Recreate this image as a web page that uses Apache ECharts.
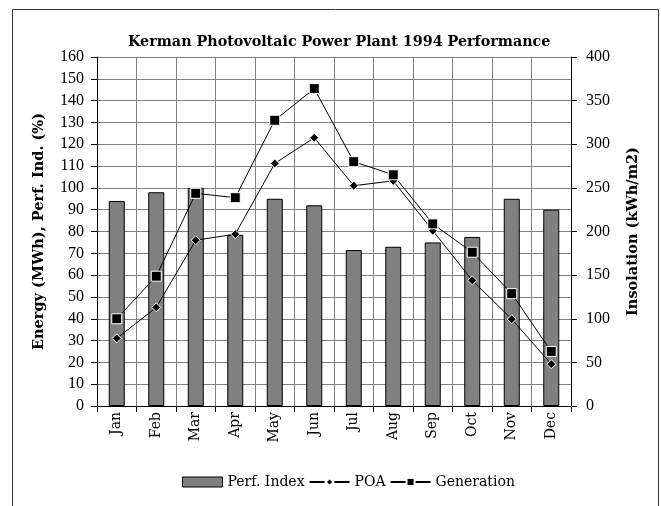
<!DOCTYPE html>
<html>
<head>
<meta charset="utf-8">
<script src="https://cdn.jsdelivr.net/npm/echarts@6/dist/echarts.min.js"></script>
<style>
  html, body { margin: 0; padding: 0; background: #fff; }
  #main { width: 661px; height: 506px; }
</style>
</head>
<body>
<div id="main"></div>
<script>
// data
var months = ['Jan', 'Feb', 'Mar', 'Apr', 'May', 'Jun', 'Jul', 'Aug', 'Sep', 'Oct', 'Nov', 'Dec'];
var perfIndex = [94, 98, 100, 78.5, 95, 92, 71.5, 73, 75, 77.5, 95, 90];     // %
var generation = [40, 59.5, 97.5, 95.5, 131, 145.5, 112, 106, 83.5, 70.5, 51.5, 25]; // MWh
var poa = [77.5, 113, 190, 197, 278, 307.5, 252.5, 258, 201, 144, 99.5, 48];  // kWh/m2

var serif = 'DejaVu Serif';
var numFont = 'Liberation Serif';

var chart = echarts.init(document.getElementById('main'));
var option = {
  animation: false,
  title: {
    text: 'Kerman Photovoltaic Power Plant 1994 Performance',
    left: 123,
    top: 30,
    textStyle: { fontFamily: serif, fontSize: 14.3, fontWeight: 'bold', color: '#000' }
  },
  legend: {
    bottom: 12,
    left: 177,
    itemGap: 4,
    itemWidth: 40,
    itemHeight: 10,
    textStyle: { fontFamily: serif, fontSize: 14, color: '#000' },
    data: [
      { name: 'Perf. Index', icon: 'rect', itemStyle: { color: '#808080', borderColor: '#000', borderWidth: 1 } },
      { name: 'POA' },
      { name: 'Generation' }
    ]
  },
  grid: { left: 97, right: 90, top: 57, bottom: 100 },
  xAxis: {
    type: 'category',
    data: months,
    axisLine: { lineStyle: { color: '#000', width: 1 } },
    axisTick: { show: true, length: 6, lineStyle: { color: '#000' } },
    splitLine: { show: true, lineStyle: { color: '#808080', width: 1 } },
    axisLabel: { rotate: 90, margin: 6, fontFamily: serif, fontSize: 14, color: '#000' }
  },
  yAxis: [
    {
      type: 'value',
      min: 0, max: 160, interval: 10,
      name: 'Energy (MWh), Perf. Ind. (%)',
      nameLocation: 'middle',
      nameGap: 50,
      nameTextStyle: { fontFamily: serif, fontSize: 14.5, fontWeight: 'bold', color: '#000' },
      axisLine: { show: true, lineStyle: { color: '#000' } },
      axisTick: { show: true, length: 6, lineStyle: { color: '#000' } },
      splitLine: { show: true, lineStyle: { color: '#808080', width: 1 } },
      axisLabel: { margin: 13, fontFamily: numFont, fontSize: 16, color: '#000' }
    },
    {
      type: 'value',
      min: 0, max: 400, interval: 50,
      name: 'Insolation (kWh/m2)',
      nameLocation: 'middle',
      nameGap: 55,
      nameRotate: 90,
      nameTextStyle: { fontFamily: serif, fontSize: 14.5, fontWeight: 'bold', color: '#000' },
      axisLine: { show: true, lineStyle: { color: '#000' } },
      axisTick: { show: true, length: 6, lineStyle: { color: '#000' } },
      splitLine: { show: false },
      axisLabel: { margin: 15, fontFamily: numFont, fontSize: 16, color: '#000' }
    }
  ],
  graphic: [
    {
      type: 'rect',
      shape: { x: 12.5, y: 9.5, width: 646, height: 520 },
      style: { fill: 'none', stroke: '#333', lineWidth: 1 },
      silent: true
    }
  ],
  series: [
    {
      name: 'Perf. Index',
      type: 'bar',
      yAxisIndex: 0,
      barWidth: 16,
      data: perfIndex,
      itemStyle: { color: '#808080', borderColor: '#000', borderWidth: 1 }
    },
    {
      name: 'POA',
      type: 'line',
      yAxisIndex: 1,
      data: poa,
      symbol: 'diamond',
      symbolSize: 9,
      lineStyle: { color: '#000', width: 1 },
      itemStyle: { color: '#000', borderColor: '#fff', borderWidth: 1 }
    },
    {
      name: 'Generation',
      type: 'line',
      yAxisIndex: 0,
      data: generation,
      symbol: 'rect',
      symbolSize: 10,
      lineStyle: { color: '#000', width: 1 },
      itemStyle: { color: '#000', borderColor: '#fff', borderWidth: 1 }
    }
  ]
};
chart.setOption(option);
</script>
</body>
</html>
